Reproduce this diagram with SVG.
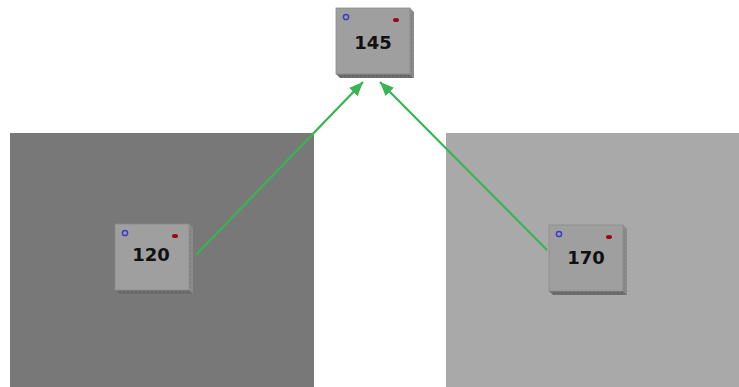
<svg xmlns="http://www.w3.org/2000/svg" width="739" height="387" viewBox="0 0 739 387">
  <defs>
    <marker id="arrow" viewBox="0 0 14 12" refX="14" refY="6" markerWidth="14" markerHeight="12" markerUnits="userSpaceOnUse" orient="auto">
      <path d="M0,0 L14,6 L0,12 Z" fill="#38b450"/>
    </marker>
    <!-- one chip-like node: front face, right and bottom bevels, two status dots -->
    <g id="chip">
      <path d="M74,0 L78,4 L78,70 L74,66 Z" fill="#8a8a8a"/>
      <path d="M0,66 L74,66 L78,70 L4,70 Z" fill="#6e6e6e"/>
      <path d="M75,6 L75,68" stroke="#7a7a7a" stroke-width="1" stroke-dasharray="2 2"/>
      <path d="M4,68 L76,68" stroke="#5c5c5c" stroke-width="1" stroke-dasharray="2 2"/>
      <rect x="0" y="0" width="74" height="66" fill="#9f9f9f" stroke="#8c8c8c" stroke-width="0.8"/>
      <circle cx="10" cy="9" r="2.6" fill="none" stroke="#3c3ccc" stroke-width="1.5"/>
      <ellipse cx="60" cy="12" rx="3" ry="2" fill="#a00018"/>
    </g>
  </defs>
  <style>
    .zone { stroke: none; }
    .label { font-family: "DejaVu Sans", "Liberation Sans", sans-serif; font-weight: bold; font-size: 18px; fill: #111; text-anchor: middle; }
    .link { stroke: #38b450; stroke-width: 2.2; fill: none; marker-end: url(#arrow); }
  </style>

  <rect width="739" height="387" fill="#ffffff"/>
  <rect class="zone" x="10" y="133" width="304" height="254" fill="#787878"/>
  <rect class="zone" x="446" y="133" width="293" height="254" fill="#a9a9a9"/>

  <g id="connectors">
    <path class="link" d="M196,255 L363,82"/>
    <path class="link" d="M547,250 L380,82"/>
  </g>

  <g id="node-145">
    <use href="#chip" x="336" y="8"/>
    <text class="label" x="373" y="49">145</text>
  </g>
  <g id="node-120">
    <use href="#chip" x="115" y="224"/>
    <text class="label" x="151" y="261">120</text>
  </g>
  <g id="node-170">
    <use href="#chip" x="549" y="225"/>
    <text class="label" x="586" y="264">170</text>
  </g>
</svg>
